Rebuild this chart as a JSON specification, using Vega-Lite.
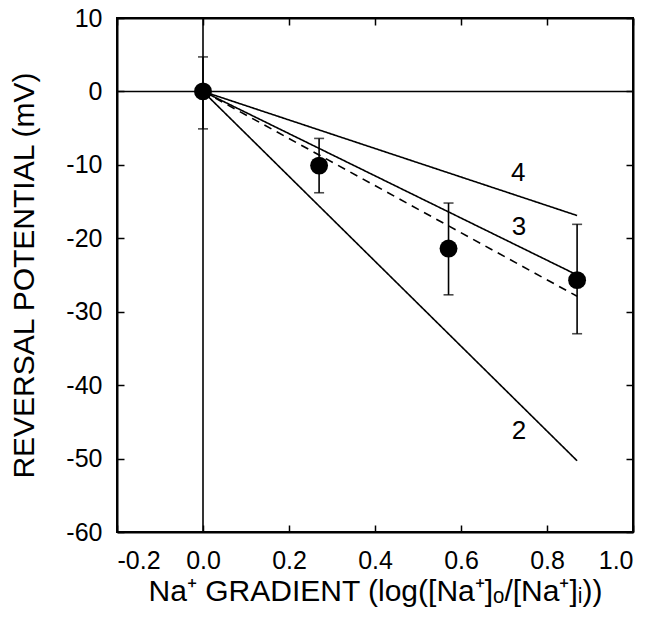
{
  "$schema": "https://vega.github.io/schema/vega-lite/v6.json",
  "autosize": "none",
  "width": 516,
  "height": 514,
  "padding": {"left": 117, "top": 18, "right": 35, "bottom": 92},
  "background": "white",
  "config": {
    "view": {"stroke": "black", "strokeWidth": 2},
    "font": "Liberation Sans",
    "axis": {
      "domainColor": "black", "domainWidth": 2, "tickColor": "black", "tickWidth": 1.5,
      "tickSize": -7, "grid": false, "labelFont": "Liberation Sans", "labelFontSize": 25,
      "labelColor": "black", "titleFont": "Liberation Sans", "titleFontSize": 30,
      "titleFontWeight": "normal", "titleColor": "black"
    }
  },
  "datasets": {
    "lines": [
      {"series": "2", "x": 0, "y": 0}, {"series": "2", "x": 0.87, "y": -50.3},
      {"series": "3", "x": 0, "y": 0}, {"series": "3", "x": 0.87, "y": -25.0},
      {"series": "4", "x": 0, "y": 0}, {"series": "4", "x": 0.87, "y": -16.9},
      {"series": "dashed", "x": 0, "y": 0}, {"series": "dashed", "x": 0.87, "y": -27.9}
    ],
    "points": [
      {"x": 0, "y": 0, "lo": -5.1, "hi": 4.7},
      {"x": 0.27, "y": -10.1, "lo": -13.8, "hi": -6.4},
      {"x": 0.571, "y": -21.4, "lo": -27.7, "hi": -15.2},
      {"x": 0.87, "y": -25.7, "lo": -33.0, "hi": -18.1}
    ],
    "labels": [
      {"x": 0.733, "y": -11.1, "text": "4"},
      {"x": 0.735, "y": -18.4, "text": "3"},
      {"x": 0.735, "y": -46.2, "text": "2"}
    ]
  },
  "resolve": {"axis": {"x": "independent", "y": "independent"}},
  "layer": [
    {
      "data": {"name": "lines"},
      "mark": {"type": "line", "color": "black", "strokeWidth": 1.6},
      "encoding": {
        "x": {"field": "x", "type": "quantitative",
              "scale": {"domain": [-0.2, 1.0], "nice": false, "zero": false},
              "axis": {"values": [-0.2, 0, 0.2, 0.4, 0.6, 0.8, 1.0], "format": ".1f", "labelPadding": 23,
                       "labelExpr": "replace(datum.label, '−', '-')",
                       "title": "Na⁺ GRADIENT (log([Na⁺]ₒ/[Na⁺]ᵢ))", "titlePadding": 3}},
        "y": {"field": "y", "type": "quantitative",
              "scale": {"domain": [-60, 10], "nice": false, "zero": false},
              "axis": {"values": [10, 0, -10, -20, -30, -40, -50, -60], "labelPadding": 22,
                       "labelExpr": "replace(datum.label, '−', '-')",
                       "title": "REVERSAL POTENTIAL (mV)", "titlePadding": 26}},
        "detail": {"field": "series"},
        "strokeDash": {"field": "series", "type": "nominal",
                       "scale": {"domain": ["2", "3", "4", "dashed"], "range": [[1, 0], [1, 0], [1, 0], [8, 6]]},
                       "legend": null}
      }
    },
    {
      "data": {"values": [{"v": 0}]},
      "mark": {"type": "rule", "color": "black", "strokeWidth": 1.6},
      "encoding": {"y": {"field": "v", "type": "quantitative", "axis": null}}
    },
    {
      "data": {"values": [{"v": 0}]},
      "mark": {"type": "rule", "color": "black", "strokeWidth": 1.6},
      "encoding": {"x": {"field": "v", "type": "quantitative", "axis": null}}
    },
    {
      "data": {"name": "points"},
      "mark": {"type": "rule", "color": "black", "strokeWidth": 1.6},
      "encoding": {
        "x": {"field": "x", "type": "quantitative", "axis": null},
        "y": {"field": "lo", "type": "quantitative", "axis": null},
        "y2": {"field": "hi"}
      }
    },
    {
      "data": {"name": "points"},
      "mark": {"type": "tick", "orient": "horizontal", "color": "black", "size": 10, "thickness": 1.6},
      "encoding": {
        "x": {"field": "x", "type": "quantitative", "axis": null},
        "y": {"field": "lo", "type": "quantitative", "axis": null}
      }
    },
    {
      "data": {"name": "points"},
      "mark": {"type": "tick", "orient": "horizontal", "color": "black", "size": 10, "thickness": 1.6},
      "encoding": {
        "x": {"field": "x", "type": "quantitative", "axis": null},
        "y": {"field": "hi", "type": "quantitative", "axis": null}
      }
    },
    {
      "data": {"name": "points"},
      "mark": {"type": "circle", "color": "black", "opacity": 1, "size": 320},
      "encoding": {
        "x": {"field": "x", "type": "quantitative",
              "axis": {"orient": "top", "labels": false, "title": null, "domain": true,
                       "values": [-0.2, 0, 0.2, 0.4, 0.6, 0.8, 1.0]}},
        "y": {"field": "y", "type": "quantitative",
              "axis": {"orient": "right", "labels": false, "title": null, "domain": true,
                       "values": [10, 0, -10, -20, -30, -40, -50, -60]}}
      }
    },
    {
      "data": {"name": "labels"},
      "mark": {"type": "text", "color": "black", "fontSize": 26, "font": "Liberation Sans"},
      "encoding": {
        "x": {"field": "x", "type": "quantitative", "axis": null},
        "y": {"field": "y", "type": "quantitative", "axis": null},
        "text": {"field": "text"}
      }
    }
  ]
}
